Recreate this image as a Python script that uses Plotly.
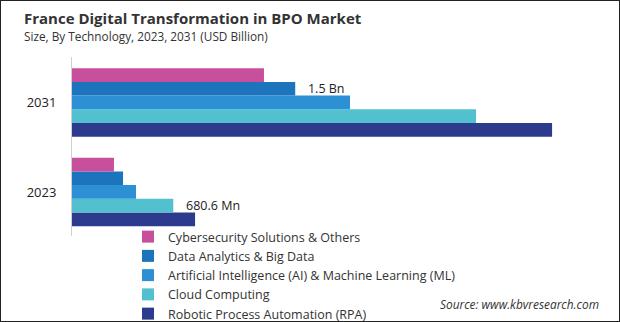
import plotly.graph_objects as go

years = ["2023", "2031"]
segments = [
    "Cybersecurity Solutions & Others",
    "Data Analytics & Big Data",
    "Artificial Intelligence (AI) & Machine Learning (ML)",
    "Cloud Computing",
    "Robotic Process Automation (RPA)",
]
cyber = [0.282, 1.290]
data_analytics = [0.343, 1.500]
ai_ml = [0.430, 1.868]
cloud = [0.6806, 2.715]
rpa = [0.827, 3.226]
labels_data = ["", "1.5 Bn"]
labels_cloud = ["680.6 Mn", ""]
colors = ["#C84F9C", "#1C75BC", "#2D90D5", "#52C0CF", "#2D3B8E"]

W, H = 620, 322
L, R, T, B = 72, 20, 57, 0
pw, ph = W - L - R, H - T - B
AXIS_BOTTOM = 236


def py(p):
    return (H - B - p) / ph


def px(p):
    return (p - L) / pw


FONT = "Open Sans"
fig = go.Figure()
series = [
    (segments[4], rpa, colors[4], None),
    (segments[3], cloud, colors[3], labels_cloud),
    (segments[2], ai_ml, colors[2], None),
    (segments[1], data_analytics, colors[1], labels_data),
    (segments[0], cyber, colors[0], None),
]
for name, vals, col, txt in series:
    kw = {}
    if txt is not None:
        kw = dict(text=["   " + t if t else "" for t in txt], textposition="outside",
                  textfont=dict(family=FONT, size=12.5, color="#222"),
                  constraintext="none", cliponaxis=False)
    fig.add_trace(go.Bar(y=years, x=vals, name=name, orientation="h",
                         marker=dict(color=col, line=dict(width=0)), **kw))

fig.update_layout(
    width=W, height=H,
    margin=dict(l=L, r=R, t=T, b=B, autoexpand=False),
    paper_bgcolor="white", plot_bgcolor="white",
    barmode="group", bargap=0.235, bargroupgap=0,
    font=dict(family=FONT, color="#333"),
    showlegend=True,
    legend=dict(traceorder="reversed", xref="container", yref="container",
                x=128 / W, xanchor="left", y=1 - 222 / H, yanchor="top",
                font=dict(family=FONT, size=12.5, color="#333"),
                bgcolor="rgba(0,0,0,0)"),
    xaxis=dict(range=[0, 3.548], visible=False, showgrid=False, zeroline=False),
    yaxis=dict(range=[-0.492, 1.508], domain=[py(AXIS_BOTTOM), 1],
               showline=True, linecolor="#D0D0D0", linewidth=1,
               ticks="", showgrid=False, zeroline=False,
               tickfont=dict(family=FONT, size=13, color="#222"),
               ticklabelstandoff=12, type="category"),
    annotations=[
        dict(text="<b>France Digital Transformation in BPO Market</b>", xref="paper", yref="paper",
             x=px(22), y=py(18), xanchor="left", yanchor="middle",
             showarrow=False, font=dict(family=FONT, size=15, color="#333")),
        dict(text="Size, By Technology, 2023, 2031 (USD Billion)", xref="paper", yref="paper",
             x=px(22), y=py(36.5), xanchor="left", yanchor="middle",
             showarrow=False, font=dict(family=FONT, size=11.8, color="#333")),
        dict(text="<i>Source: www.kbvresearch.com</i>", xref="paper", yref="paper",
             x=px(601), y=py(304), xanchor="right", yanchor="middle",
             showarrow=False, font=dict(family=FONT, size=11.9, color="#333")),
    ],
    shapes=[dict(type="rect", xref="paper", yref="paper",
                 x0=px(0), x1=px(W), y0=py(H), y1=py(0),
                 line=dict(color="#222", width=2), fillcolor="rgba(0,0,0,0)", layer="above")],
)

fig.write_html("out.html")
